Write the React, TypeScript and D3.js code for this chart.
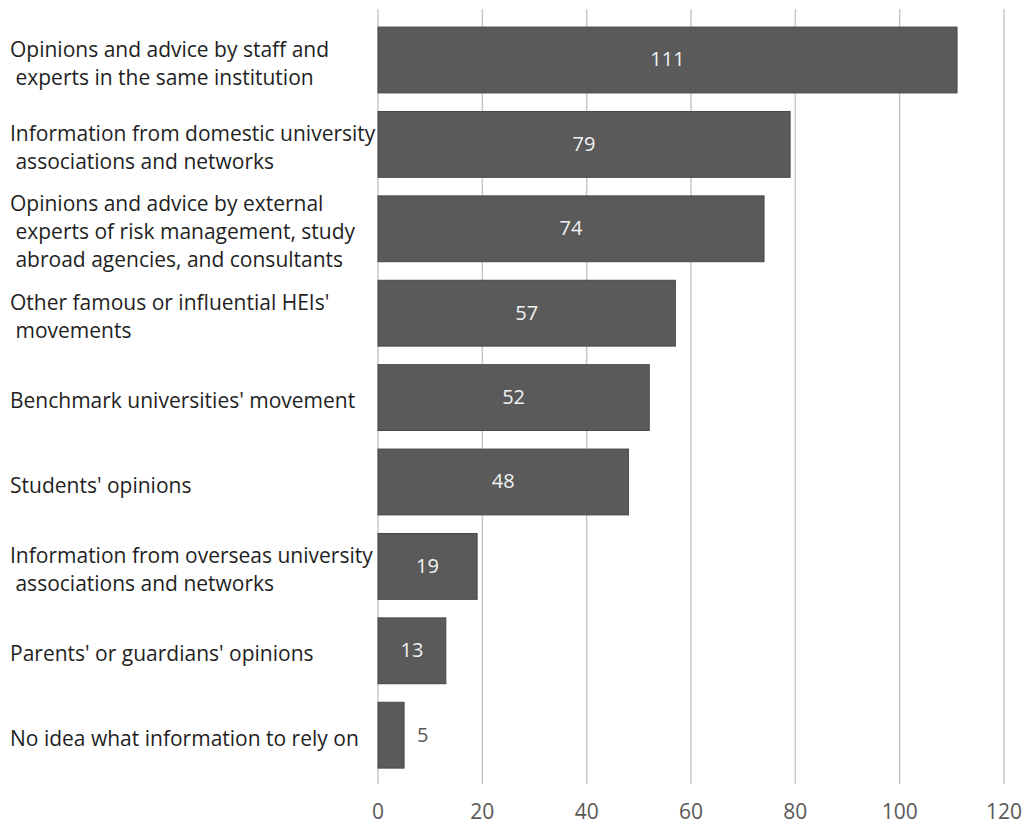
import React from "react";
import * as d3 from "d3";

const categories: string[][] = [
  ["Opinions and advice by staff and", " experts in the same institution"],
  ["Information from domestic university", " associations and networks"],
  ["Opinions and advice by external", " experts of risk management, study", " abroad agencies, and consultants"],
  ["Other famous or influential HEIs'", " movements"],
  ["Benchmark universities' movement"],
  ["Students' opinions"],
  ["Information from overseas university", " associations and networks"],
  ["Parents' or guardians' opinions"],
  ["No idea what information to rely on"],
];
const values: number[] = [111, 79, 74, 57, 52, 48, 19, 13, 5];
const ticks: number[] = [0, 20, 40, 60, 80, 100, 120];

const W = 1025;
const H = 825;
const FONT = "'Open Sans', sans-serif";

export default function App() {
  const x = d3.scaleLinear().domain([0, 120]).range([378, 1004]);
  const idx = values.map((_, i) => String(i));
  const y = d3.scaleBand<string>().domain(idx).range([17.8, 777.4]).paddingInner(0.22).paddingOuter(0.11);
  const bw = y.bandwidth();
  return (
    <svg width={W} height={H} style={{ position: "absolute", left: 0, top: 0, background: "#fff" }}>
      {ticks.map((t) => (
        <g key={t}>
          <line x1={x(t)} x2={x(t)} y1={9} y2={784} stroke="#c8c8c8" strokeWidth={1.5} />
          <text x={x(t)} y={813} textAnchor="middle" dominantBaseline="middle" fontFamily={FONT} fontSize={21} fill="#595959">
            {t}
          </text>
        </g>
      ))}
      {values.map((v, i) => {
        const y0 = y(String(i))!;
        const cy = y0 + bw / 2;
        const inside = x(v) - x(0) > 40;
        const lines = categories[i];
        const lh = 28;
        const startY = cy + 5 - ((lines.length - 1) * lh) / 2;
        return (
          <g key={i}>
            <rect x={x(0)} y={y0} width={x(v) - x(0)} height={bw} fill="#5a5a5a" stroke="#474747" strokeWidth={1} />
            <text
              x={inside ? (x(0) + x(v)) / 2 : x(v) + 13}
              y={cy + 1}
              textAnchor={inside ? "middle" : "start"}
              dominantBaseline="middle"
              fontFamily={FONT}
              fontSize={20}
              fill={inside ? "#f2f2f2" : "#595959"}
            >
              {v}
            </text>
            {lines.map((ln, j) => (
              <text
                key={j}
                x={10}
                y={startY + j * lh}
                dominantBaseline="middle"
                fontFamily={FONT}
                fontSize={21}
                fill="#1f1f1f"
                style={{ whiteSpace: "pre" }}
              >
                {ln}
              </text>
            ))}
          </g>
        );
      })}
    </svg>
  );
}
